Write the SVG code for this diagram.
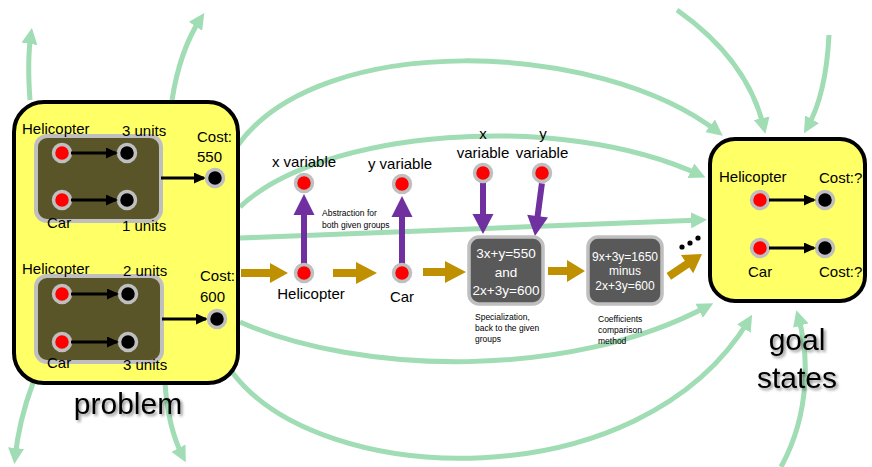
<svg xmlns="http://www.w3.org/2000/svg" width="872" height="467" viewBox="0 0 872 467">
<style>
text{font-family:"Liberation Sans",Arial,sans-serif;fill:#000}
.lbl{font-size:15px}
.big{font-size:30px}
.sm{font-size:8.5px}
.eq{font-size:13.5px;fill:#fff;text-anchor:middle}
.eq2{font-size:12px;fill:#fff;text-anchor:middle}
.mid{text-anchor:middle}
.green{fill:none;stroke:#a0dcb4;stroke-width:5;marker-end:url(#gh)}
.blk{stroke:#000;stroke-width:3;marker-end:url(#bh)}
.red{fill:#ff0000;stroke:#bfbfbf;stroke-width:3.5}
.dot{fill:#000;stroke:#bfbfbf;stroke-width:3.5}
.grp{fill:#5a5528;stroke:#bfbfbf;stroke-width:4}
.box{fill:#ffff66;stroke:#000;stroke-width:4}
.eqbox{fill:#595959;stroke:#bfbfbf;stroke-width:3.5}
.gold{fill:#bf9000}
.pur{fill:#7030a0}
</style>
<defs>
<marker id="gh" markerUnits="userSpaceOnUse" markerWidth="16" markerHeight="16" refX="10" refY="8" orient="auto">
<path d="M0,0 L16,8 L0,16 z" fill="#a0dcb4"/>
</marker>
<marker id="bh" markerUnits="userSpaceOnUse" markerWidth="12" markerHeight="11" refX="10" refY="5.5" orient="auto">
<path d="M0,0 L12,5.5 L0,11 z" fill="#000"/>
</marker>
<filter id="sh" x="-10%" y="-10%" width="130%" height="140%">
<feDropShadow dx="2" dy="2" stdDeviation="1.5" flood-color="#000" flood-opacity="0.45"/>
</filter>
</defs>

<g id="connectors">
<path class="green" d="M30 100 Q27 60 31 34"/>
<path class="green" d="M172 100 C178 62 189 36 201 18"/>
<path class="green" d="M33 383 Q19 420 15 458"/>
<path class="green" d="M165 383 Q168 428 183 457"/>
<path class="green" d="M238 145 C320 30 600 40 718 132"/>
<path class="green" d="M240 207 C320 130 560 110 700 175"/>
<path class="green" d="M240 238 Q470 228 701 220"/>
<path class="green" d="M240 322 C360 375 570 380 708 306"/>
<path class="green" d="M232 372 C320 490 640 500 749 320"/>
<path class="green" d="M781 467 C812 410 808 350 798 316"/>
<path class="green" d="M677 10 Q748 60 764 128"/>
<path class="green" d="M829 35 Q826 95 807 128"/>

<polygon class="gold" points="241,269 270,269 270,263 288,273 270,283 270,277 241,277"/>
<polygon class="gold" points="333,269 356,269 356,262 377,273 356,284 356,277 333,277"/>
<polygon class="gold" points="423,268 445,268 445,261 466,272 445,283 445,276 423,276"/>
<polygon class="gold" points="548,267 567,267 567,260 585,271 567,282 567,275 548,275"/>
<polygon class="gold" transform="translate(702,254) rotate(-34)" points="-40,-4 -18,-4 -18,-11 0,0 -18,11 -18,4 -40,4"/>

<polygon class="pur" transform="translate(304,194) rotate(-90)" points="-70,-3 -21,-3 -21,-10.5 0,0 -21,10.5 -21,3 -70,3"/>
<polygon class="pur" transform="translate(402,196) rotate(-90)" points="-68,-3 -21,-3 -21,-10.5 0,0 -21,10.5 -21,3 -68,3"/>
<polygon class="pur" transform="translate(483,234) rotate(90)" points="-51,-3 -20,-3 -20,-10.5 0,0 -20,10.5 -20,3 -51,3"/>
<polygon class="pur" transform="translate(535,236) rotate(97.5)" points="-53,-3 -20,-3 -20,-10.5 0,0 -20,10.5 -20,3 -53,3"/>

<circle cx="682" cy="247" r="2.6"/>
<circle cx="690" cy="243" r="2.6"/>
<circle cx="698" cy="238" r="2.6"/>
</g>

<g id="problem">
<rect class="box" x="14" y="102" width="224" height="281" rx="30"/>
<rect class="grp" x="36" y="136" width="125" height="85" rx="11"/>
<circle class="red" cx="62" cy="153" r="8.5"/>
<circle class="dot" cx="127" cy="153" r="8.5"/>
<circle class="red" cx="62" cy="200" r="8.5"/>
<circle class="dot" cx="127" cy="200" r="8.5"/>
<line class="blk" x1="71" y1="153" x2="116" y2="153"/>
<line class="blk" x1="71" y1="200" x2="116" y2="200"/>
<line class="blk" x1="161" y1="178" x2="204" y2="178"/>
<circle class="dot" cx="215" cy="178" r="8.5"/>
<text class="lbl" x="22" y="134">Helicopter</text>
<text class="lbl" x="122" y="136">3 units</text>
<text class="lbl" x="197" y="142">Cost:</text>
<text class="lbl" x="197" y="162">550</text>
<text class="lbl" x="47" y="228">Car</text>
<text class="lbl" x="122" y="231">1 units</text>

<rect class="grp" x="36" y="276" width="126" height="86" rx="11"/>
<circle class="red" cx="62" cy="294" r="8.5"/>
<circle class="dot" cx="128" cy="294" r="8.5"/>
<circle class="red" cx="62" cy="342" r="8.5"/>
<circle class="dot" cx="128" cy="342" r="8.5"/>
<line class="blk" x1="71" y1="294" x2="117" y2="294"/>
<line class="blk" x1="71" y1="342" x2="117" y2="342"/>
<line class="blk" x1="162" y1="319" x2="206" y2="319"/>
<circle class="dot" cx="217" cy="319" r="8.5"/>
<text class="lbl" x="22" y="274">Helicopter</text>
<text class="lbl" x="123" y="276">2 units</text>
<text class="lbl" x="200" y="281">Cost:</text>
<text class="lbl" x="200" y="302">600</text>
<text class="lbl" x="47" y="368">Car</text>
<text class="lbl" x="123" y="370">3 units</text>
<text class="big mid" x="128" y="414" filter="url(#sh)">problem</text>
</g>

<g id="helicopter">
<circle class="red" cx="304" cy="273" r="8.5"/>
<text class="lbl mid" x="311" y="299">Helicopter</text>
</g>
<g id="xvar1">
<circle class="red" cx="304" cy="183" r="8.5"/>
<text class="lbl mid" x="304" y="167">x variable</text>
</g>
<g id="car">
<circle class="red" cx="402" cy="273" r="8.5"/>
<text class="lbl mid" x="402" y="302">Car</text>
</g>
<g id="yvar1">
<circle class="red" cx="402" cy="184" r="8.5"/>
<text class="lbl mid" x="400" y="169">y variable</text>
</g>
<g id="abstraction">
<text class="sm" x="322" y="216">Abstraction for</text>
<text class="sm" x="322" y="228">both given groups</text>
</g>
<g id="xvar2">
<circle class="red" cx="483" cy="173" r="8.5"/>
<text class="lbl mid" x="483" y="139">x</text>
<text class="lbl mid" x="483" y="158">variable</text>
</g>
<g id="yvar2">
<circle class="red" cx="542" cy="173" r="8.5"/>
<text class="lbl mid" x="543" y="139">y</text>
<text class="lbl mid" x="542" y="158">variable</text>
</g>
<g id="eq1">
<rect class="eqbox" x="469" y="237" width="74" height="67" rx="10"/>
<text class="eq" x="506" y="258">3x+y=550</text>
<text class="eq" x="506" y="277">and</text>
<text class="eq" x="506" y="295">2x+3y=600</text>
<text class="sm" x="475" y="320">Specialization,</text>
<text class="sm" x="475" y="331">back to the given</text>
<text class="sm" x="475" y="342">groups</text>
</g>
<g id="eq2">
<rect class="eqbox" x="588" y="237" width="74" height="67" rx="10"/>
<text class="eq2" x="625" y="261">9x+3y=1650</text>
<text class="eq2" x="625" y="275">minus</text>
<text class="eq2" x="625" y="290">2x+3y=600</text>
<text class="sm" x="598" y="322">Coefficients</text>
<text class="sm" x="598" y="333">comparison</text>
<text class="sm" x="598" y="344">method</text>
</g>

<g id="goal">
<rect class="box" x="710" y="139" width="155" height="162" rx="25"/>
<circle class="red" cx="760" cy="200" r="8.5"/>
<circle class="dot" cx="825" cy="200" r="8.5"/>
<circle class="red" cx="760" cy="248" r="8.5"/>
<circle class="dot" cx="825" cy="248" r="8.5"/>
<line class="blk" x1="769" y1="200" x2="814" y2="200"/>
<line class="blk" x1="769" y1="248" x2="814" y2="248"/>
<text class="lbl" x="719" y="182">Helicopter</text>
<text class="lbl" x="819" y="183">Cost:?</text>
<text class="lbl" x="748" y="277">Car</text>
<text class="lbl" x="819" y="277">Cost:?</text>
<text class="big mid" x="797" y="350" filter="url(#sh)">goal</text>
<text class="big mid" x="797" y="388" filter="url(#sh)">states</text>
</g>
</svg>
